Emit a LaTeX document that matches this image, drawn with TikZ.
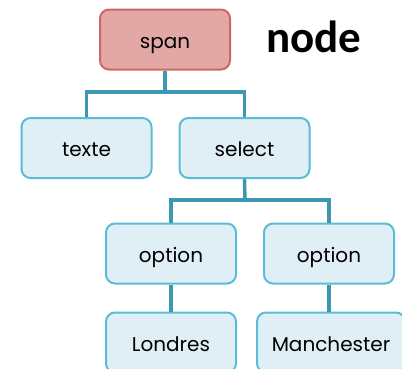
\documentclass[tikz,border=0pt]{standalone}
\usepackage{fontspec}
\setmainfont{Poppins}
\newfontfamily\titlefont{Carlito}
\definecolor{rootfill}{HTML}{E3A8A6}
\definecolor{rootline}{HTML}{CD6764}
\definecolor{leaffill}{HTML}{E0EFF6}
\definecolor{leafline}{HTML}{5BBCD6}
\definecolor{linkcol}{HTML}{3D97AE}
\begin{document}
\begin{tikzpicture}[x=1pt,y=1pt,
  box/.style={rounded corners=9pt, line width=2pt, minimum width=130pt,
    minimum height=60pt, inner sep=0pt, text height=17pt, text depth=0pt,
    font=\fontsize{20}{20}\selectfont},
  rootbox/.style={box, fill=rootfill, draw=rootline},
  leafbox/.style={box, fill=leaffill, draw=leafline},
  link/.style={draw=linkcol, line width=3.4pt}]
\useasboundingbox (0,0) rectangle (402,368);
\clip (0,0) rectangle (402,368);
% branching points of the connectors
\coordinate (j1) at (165,276);
\coordinate (j2) at (245,168);
% tree of elements
\node[rootbox] (span) at (165,328.5) {span};
\node[leafbox] (texte) at (86.5,220) {texte};
\node[leafbox] (select) at (244.5,220) {select};
\node[leafbox] (opt1) at (171,114.5) {option};
\node[leafbox] (opt2) at (329,114.5) {option};
\node[leafbox] (londres) at (171,25.5) {Londres};
\node[leafbox, minimum width=148pt] (manch) at (331,25.5) {Manchester};
% heading
\node[font=\titlefont\bfseries\fontsize{45}{45}\selectfont, inner sep=0pt] (title) at (314,331) {node};
% connectors
\draw[link] (span.south) -- (j1);
\draw[link] (texte.north) |- (j1) -| (select.north);
\draw[link] (select.south) -- (j2);
\draw[link] (opt1.north) |- (j2) -| (opt2.north);
\draw[link] (opt1.south) -- (londres.north);
\draw[link] (opt2.south) -- (opt2.south |- manch.north);
\end{tikzpicture}
\end{document}
